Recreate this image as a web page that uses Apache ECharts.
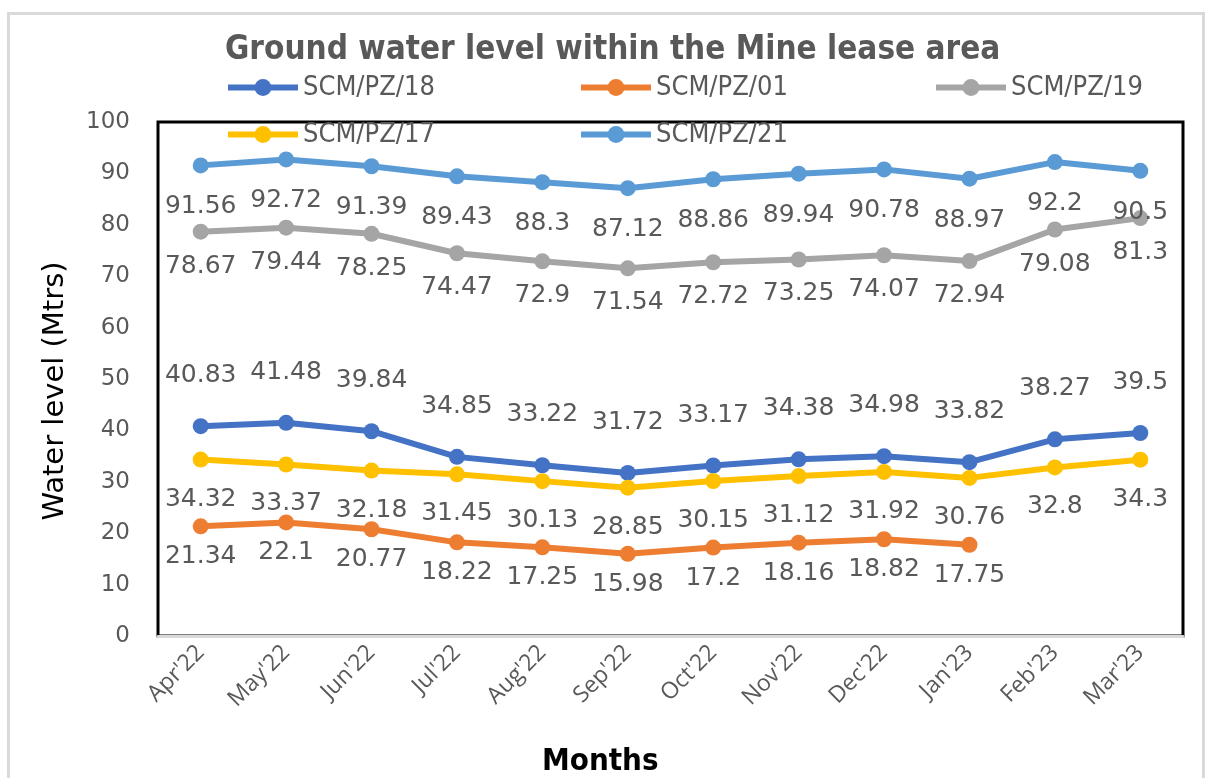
<!DOCTYPE html>
<html>
<head>
<meta charset="utf-8">
<script src="https://cdn.jsdelivr.net/npm/echarts@6/dist/echarts.min.js"></script>
<style>
html,body{margin:0;padding:0;background:#fff;}
#chart{width:1210px;height:778px;}
</style>
</head>
<body>
<div id="chart"></div>
<script>
const months = ["Apr'22","May'22","Jun'22","Jul'22","Aug'22","Sep'22","Oct'22","Nov'22","Dec'22","Jan'23","Feb'23","Mar'23"];
const yTicks = [0,10,20,30,40,50,60,70,80,90,100];
const seriesNames = ["SCM/PZ/18","SCM/PZ/01","SCM/PZ/19","SCM/PZ/17","SCM/PZ/21"];
const pz18 = [40.83,41.48,39.84,34.85,33.22,31.72,33.17,34.38,34.98,33.82,38.27,39.5];
const pz01 = [21.34,22.1,20.77,18.22,17.25,15.98,17.2,18.16,18.82,17.75,null,null];
const pz19 = [78.67,79.44,78.25,74.47,72.9,71.54,72.72,73.25,74.07,72.94,79.08,81.3];
const pz17 = [34.32,33.37,32.18,31.45,30.13,28.85,30.15,31.12,31.92,30.76,32.8,34.3];
const pz21 = [91.56,92.72,91.39,89.43,88.3,87.12,88.86,89.94,90.78,88.97,92.2,90.5];

const colors = ['#4472C4','#ED7D31','#A5A5A5','#FFC000','#5B9BD5'];
const values = [pz18, pz01, pz19, pz17, pz21];
const labelPos = ['top','bottom','bottom','bottom','bottom'];
const labelDist = [30, 10, 14, 19, 21];
const textGray = '#595959';
const numFont = 'DejaVu Sans';
const condFont = 'DejaVu Sans Condensed, Liberation Sans';

const chart = echarts.init(document.getElementById('chart'), null, {renderer:'canvas'});

const legendPos = [[220,69],[573,69],[928,69],[220,116],[573,116]];
const legends = seriesNames.map((n,i)=>({
  data:[n], left:legendPos[i][0], top:legendPos[i][1], itemWidth:70, itemHeight:21, itemGap:4,
  lineStyle:{width:6},
  textStyle:{fontFamily:condFont, fontSize:27, color:textGray},
  selectedMode:false
}));

const series = seriesNames.map((n,i)=>({
  name:n, type:'line', data:values[i], symbol:'circle', symbolSize:16,
  itemStyle:{color:colors[i]}, lineStyle:{color:colors[i], width:6},
  connectNulls:false,
  label:{show:true, position:labelPos[i], distance:labelDist[i], fontFamily:numFont, fontSize:25, color:textGray},
  emphasis:{disabled:true}, animation:false
}));

chart.setOption({
  animation:false,
  backgroundColor:'#fff',
  title:[
    {text:'Ground water level within the Mine lease area', left:220, top:29,
     textStyle:{fontFamily:condFont, fontWeight:'bold', fontSize:33, color:textGray}},
    {text:'Months', left:537, top:741,
     textStyle:{fontFamily:condFont, fontWeight:'bold', fontSize:31, color:'#000'}}
  ],
  legend:legends,
  grid:{left:158, right:27, top:122, bottom:142, show:true, borderColor:'#000', borderWidth:3, containLabel:false},
  xAxis:{type:'category', data:months, boundaryGap:true,
    axisLine:{lineStyle:{color:'#d9d9d9', width:3}}, axisTick:{show:false},
    axisLabel:{rotate:45, fontFamily:'Open Sans', fontSize:23, color:textGray, margin:13}},
  yAxis:{type:'value', min:yTicks[0], max:yTicks[yTicks.length-1], interval:10,
    name:'Water level (Mtrs)', nameLocation:'middle', nameRotate:90, nameGap:88,
    nameTextStyle:{fontFamily:numFont, fontSize:29, color:'#000', padding:[0,24,0,0]},
    axisLine:{show:false}, axisTick:{show:false}, splitLine:{show:false},
    axisLabel:{fontFamily:numFont, fontSize:23, color:textGray, margin:28}},
  graphic:[{type:'rect', shape:{x:8.5, y:13.5, width:1195, height:800}, style:{fill:'none', stroke:'#d9d9d9', lineWidth:3}, silent:true, z:-1}],
  series:series
});
</script>
</body>
</html>
